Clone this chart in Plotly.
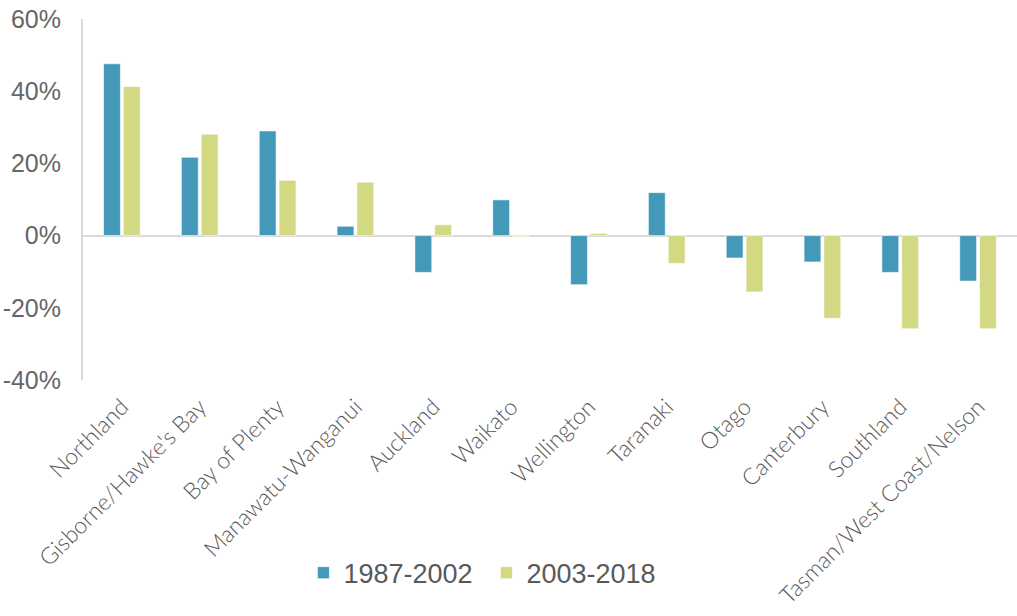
import plotly.graph_objects as go

regions = [
    "Northland", "Gisborne/Hawke's Bay", "Bay of Plenty", "Manawatu-Wanganui",
    "Auckland", "Waikato", "Wellington", "Taranaki", "Otago", "Canterbury",
    "Southland", "Tasman/West Coast/Nelson",
]
change_1987_2002 = [47.6, 21.7, 29.0, 2.6, -10.2, 9.9, -13.6, 11.9, -6.2, -7.3, -10.2, -12.6]
change_2003_2018 = [41.3, 28.1, 15.3, 14.8, 3.0, -0.3, 0.6, -7.7, -15.6, -22.9, -25.8, -25.8]
y_ticks = [-40, -20, 0, 20, 40, 60]
y_tick_text = [f"{v}%" for v in y_ticks]

BLUE = "#4499b8"
GREEN = "#d3d882"
TEXT = "#595959"
NARROW = "Liberation Sans Narrow, Arial Narrow, sans-serif"

fig = go.Figure()
fig.add_trace(go.Bar(
    x=regions, y=change_1987_2002, name="1987-2002",
    marker={"color": BLUE, "line": {"color": "rgba(255,255,255,0.6)", "width": 1}},
))
fig.add_trace(go.Bar(
    x=regions, y=change_2003_2018, name="2003-2018",
    marker={"color": GREEN, "line": {"color": "rgba(255,255,255,0.6)", "width": 1}},
))

fig.update_layout(
    width=1017, height=616,
    margin={"l": 83, "r": 0, "t": 19, "b": 236},
    paper_bgcolor="white", plot_bgcolor="white",
    barmode="group", bargap=0.49, bargroupgap=0.15,
    font={"family": "Lato, Open Sans, sans-serif", "color": TEXT},
    legend={
        "orientation": "h", "x": 0.236, "xanchor": "left",
        "y": -0.535, "yanchor": "middle",
        "font": {"size": 27, "family": NARROW, "color": TEXT},
        "itemwidth": 30, "entrywidth": 138, "entrywidthmode": "pixels",
    },
)
fig.update_xaxes(
    tickangle=-45, tickfont={"size": 23, "color": TEXT, "weight": 300},
    showline=False, showgrid=False, ticks="", automargin=False,
    ticklabelstandoff=8, ticklabeloverflow="allow",
)
fig.update_yaxes(
    range=[-40, 60], tickmode="array", tickvals=y_ticks, ticktext=y_tick_text,
    tickfont={"size": 25, "color": "#666666", "family": NARROW},
    showgrid=False, showline=True, linecolor="#d9d9d9", linewidth=2,
    zeroline=True, zerolinecolor="#d9d9d9", zerolinewidth=2,
    ticklabelstandoff=15, automargin=False, ticklabeloverflow="allow",
)

# drop the default 8px page margin so the chart sits flush with the window
fig.write_html(
    "out.html",
    config={"displayModeBar": False},
    post_script="document.body.style.margin = '0px';",
)
